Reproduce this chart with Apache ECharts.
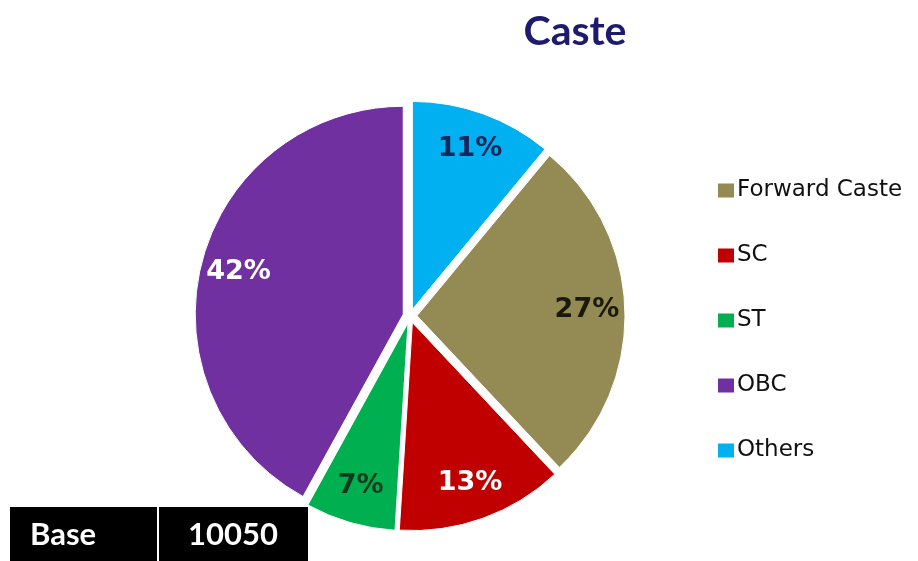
<!DOCTYPE html>
<html>
<head>
<meta charset="utf-8">
<title>Caste</title>
<script src="https://cdn.jsdelivr.net/npm/echarts@6/dist/echarts.min.js"></script>
<style>
  html, body { margin: 0; padding: 0; background: #ffffff; }
  #chart { width: 918px; height: 561px; }
</style>
</head>
<body>
<div id="chart"></div>
<script>
// Caste distribution (percent of respondents)
const categories = ['Forward Caste', 'SC', 'ST', 'OBC', 'Others'];
const shares = [27, 13, 7, 42, 11];
const sliceColors = ['#948A54', '#C00000', '#00B050', '#7030A0', '#00B0F0'];
const labelColors = ['#1a1a0a', '#ffffff', '#0b3a1c', '#ffffff', '#10285a'];
const baseLabel = 'Base';
const baseCount = 10050;

const chart = echarts.init(document.getElementById('chart'), null, { renderer: 'canvas' });

const pieCenter = [410, 316];
const outerR = 208;
// Forward Caste starts after the "Others" wedge, which sits just right of 12 o'clock
const startAngle = 90 - shares[4] / 100 * 360;

const sliceData = categories.map((name, i) => ({
  name,
  value: shares[i],
  selected: true,
  itemStyle: { color: sliceColors[i] }
}));

const labelData = categories.map((name, i) => ({
  name,
  value: shares[i],
  selected: true,
  label: { color: labelColors[i] }
}));

chart.setOption({
  animation: false,
  title: {
    text: 'Caste',
    left: 570,
    textAlign: 'center',
    top: 6,
    textStyle: { fontFamily: 'Lato', fontWeight: 'bold', fontSize: 41, color: '#1E1B6E' }
  },
  legend: {
    orient: 'vertical',
    left: 711,
    top: 174,
    itemWidth: 18,
    itemHeight: 16,
    itemGap: 42,
    icon: 'rect',
    selectedMode: false,
    data: categories,
    textStyle: { fontFamily: 'DejaVu Sans', fontSize: 23, color: '#111111', padding: [0, 0, 0, -3] }
  },
  series: [
    {
      type: 'pie',
      center: pieCenter,
      radius: [0, outerR],
      startAngle,
      clockwise: true,
      selectedMode: 'multiple',
      selectedOffset: 7,
      silent: true,
      label: { show: false },
      labelLine: { show: false },
      emphasis: { disabled: true },
      itemStyle: { borderColor: '#ffffff', borderWidth: 1 },
      data: sliceData
    },
    {
      // transparent ring that carries the percentage labels further out
      type: 'pie',
      center: pieCenter,
      radius: [126, outerR],
      startAngle,
      clockwise: true,
      selectedMode: 'multiple',
      selectedOffset: 7,
      silent: true,
      legendHoverLink: false,
      itemStyle: { color: 'rgba(0,0,0,0)', borderWidth: 0 },
      emphasis: { disabled: true },
      labelLine: { show: false },
      label: {
        show: true,
        position: 'inside',
        fontFamily: 'DejaVu Sans',
        fontWeight: 'bold',
        fontSize: 27,
        formatter: p => p.value + '%'
      },
      data: labelData
    }
  ],
  graphic: [
    {
      type: 'group',
      left: 10,
      bottom: 0,
      children: [
        { type: 'rect', shape: { x: 0, y: 0, width: 298, height: 54 }, style: { fill: '#000000' } },
        { type: 'rect', shape: { x: 147, y: 0, width: 2, height: 54 }, style: { fill: '#ffffff' } },
        {
          type: 'text', x: 20, y: 28,
          style: { text: baseLabel, fill: '#ffffff', font: 'bold 31px Lato', textVerticalAlign: 'middle' }
        },
        {
          type: 'text', x: 178, y: 28,
          style: { text: String(baseCount), fill: '#ffffff', font: 'bold 31px Lato', textVerticalAlign: 'middle' }
        }
      ]
    }
  ]
});
</script>
</body>
</html>
